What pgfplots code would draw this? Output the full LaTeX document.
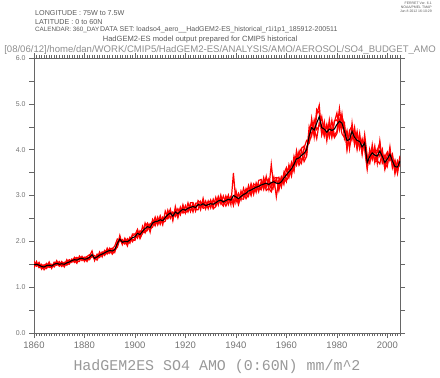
\documentclass[border=0pt]{standalone}
\usepackage{fontspec}
\setmainfont{Liberation Sans}
\newfontfamily\hfont{Liberation Mono}
\usepackage{pgfplots}
\usepackage{pgfplotstable}
\pgfplotsset{compat=1.18}
\definecolor{txtgray}{HTML}{5A5A5A}
\definecolor{lightgray}{HTML}{8E8E8E}
\definecolor{axgray}{HTML}{666666}
\pgfplotstableread{
year mean m1 m2 m3 m4
1860 1.49 1.57 1.45 1.51 1.43
1861 1.50 1.47 1.56 1.46 1.51
1862 1.48 1.52 1.43 1.54 1.43
1863 1.45 1.39 1.48 1.43 1.50
1864 1.44 1.46 1.38 1.49 1.43
1865 1.47 1.52 1.45 1.41 1.50
1866 1.48 1.44 1.55 1.50 1.43
1867 1.46 1.49 1.41 1.50 1.44
1868 1.50 1.48 1.54 1.44 1.54
1869 1.52 1.58 1.49 1.53 1.48
1870 1.50 1.47 1.56 1.46 1.51
1871 1.51 1.56 1.49 1.54 1.45
1872 1.50 1.48 1.54 1.44 1.54
1873 1.53 1.60 1.48 1.55 1.49
1874 1.55 1.51 1.58 1.60 1.51
1875 1.58 1.61 1.54 1.56 1.61
1876 1.60 1.54 1.65 1.63 1.58
1877 1.59 1.63 1.56 1.65 1.52
1878 1.62 1.64 1.56 1.60 1.68
1879 1.63 1.58 1.67 1.66 1.61
1880 1.61 1.65 1.56 1.64 1.59
1881 1.62 1.56 1.65 1.67 1.60
1882 1.65 1.68 1.61 1.71 1.60
1883 1.71 1.79 1.69 1.68 1.68
1884 1.63 1.58 1.69 1.61 1.64
1885 1.66 1.72 1.63 1.70 1.59
1886 1.70 1.67 1.77 1.65 1.71
1887 1.72 1.77 1.66 1.75 1.70
1888 1.75 1.71 1.80 1.69 1.80
1889 1.78 1.85 1.75 1.80 1.72
1890 1.80 1.74 1.85 1.83 1.78
1891 1.79 1.83 1.72 1.85 1.76
1892 1.82 1.90 1.79 1.76 1.83
1893 1.95 2.05 1.89 1.99 1.87
1894 2.05 2.00 2.13 2.03 2.04
1895 1.98 2.04 1.93 2.01 1.94
1896 2.00 1.96 2.07 1.94 2.03
1897 1.99 2.04 1.96 2.06 1.90
1898 2.03 1.96 2.09 2.00 2.07
1899 2.08 2.16 2.04 2.13 1.99
1900 2.10 2.16 2.02 2.14 2.08
1901 2.17 2.07 2.24 2.26 2.11
1902 2.15 2.23 2.09 2.06 2.22
1903 2.22 2.17 2.33 2.18 2.20
1904 2.28 2.40 2.19 2.34 2.19
1905 2.32 2.25 2.37 2.40 2.26
1906 2.30 2.39 2.20 2.27 2.34
1907 2.40 2.36 2.48 2.31 2.45
1908 2.43 2.53 2.38 2.47 2.34
1909 2.44 2.36 2.53 2.38 2.49
1910 2.47 2.52 2.37 2.56 2.43
1911 2.45 2.36 2.53 2.41 2.50
1912 2.52 2.66 2.47 2.44 2.51
1913 2.58 2.52 2.68 2.63 2.49
1914 2.62 2.70 2.50 2.68 2.60
1915 2.55 2.45 2.64 2.48 2.63
1916 2.64 2.76 2.58 2.68 2.54
1917 2.60 2.55 2.71 2.51 2.63
1918 2.66 2.75 2.58 2.71 2.60
1919 2.70 2.63 2.80 2.62 2.75
1920 2.68 2.78 2.62 2.63 2.69
1921 2.72 2.64 2.84 2.66 2.74
1922 2.74 2.80 2.65 2.84 2.67
1923 2.76 2.64 2.83 2.84 2.73
1924 2.74 2.83 2.69 2.66 2.78
1925 2.80 2.84 2.69 2.89 2.78
1926 2.79 2.69 2.87 2.84 2.76
1927 2.82 2.94 2.76 2.72 2.86
1928 2.78 2.71 2.88 2.74 2.79
1929 2.80 2.88 2.71 2.86 2.75
1930 2.82 2.73 2.90 2.88 2.77
1931 2.81 2.92 2.74 2.71 2.87
1932 2.84 2.78 2.96 2.76 2.86
1933 2.88 2.98 2.79 2.93 2.82
1934 2.90 2.82 3.01 2.84 2.93
1935 2.86 2.99 2.80 2.77 2.88
1936 2.89 2.84 2.99 2.96 2.77
1937 2.92 3.01 2.80 2.98 2.89
1938 2.90 2.80 2.97 2.85 2.98
1939 3.00 3.49 2.88 2.85 2.78
1940 2.97 2.85 3.11 2.91 3.01
1941 2.93 3.03 2.84 3.05 2.80
1942 2.98 2.90 3.10 2.93 2.99
1943 3.02 3.16 2.95 2.92 3.05
1944 3.05 2.99 3.15 3.13 2.93
1945 3.10 3.22 2.99 3.16 3.03
1946 3.12 3.02 3.20 3.00 3.26
1947 3.15 3.24 3.02 3.25 3.09
1948 3.18 3.07 3.28 3.23 3.14
1949 3.20 3.33 3.14 3.08 3.25
1950 3.23 3.35 3.13 3.31 3.13
1951 3.25 3.17 3.39 3.13 3.31
1952 3.27 3.42 3.18 3.37 3.11
1953 3.24 3.14 3.36 3.30 3.16
1954 3.28 3.68 3.22 3.14 3.08
1955 3.30 3.18 3.40 3.38 3.24
1956 3.27 3.37 2.97 3.39 3.35
1957 3.26 3.40 3.34 3.11 3.19
1958 3.30 3.22 3.18 3.39 3.41
1959 3.38 3.50 3.48 3.24 3.30
1960 3.45 3.31 3.61 3.55 3.33
1961 3.52 3.67 3.40 3.60 3.41
1962 3.58 3.48 3.72 3.42 3.70
1963 3.68 3.86 3.53 3.78 3.55
1964 3.80 3.68 3.98 3.66 3.88
1965 3.82 3.96 3.72 3.94 3.66
1966 3.88 3.72 4.00 4.03 3.77
1967 3.92 4.04 3.74 4.08 3.82
1968 4.00 4.20 3.86 3.88 4.06
1969 4.30 4.15 4.50 4.40 4.15
1970 4.48 4.68 4.30 4.60 4.34
1971 4.43 4.28 4.65 4.33 4.46
1972 4.58 4.76 4.44 4.88 4.24
1973 4.72 4.97 4.52 4.80 4.59
1974 4.48 4.34 4.72 4.33 4.53
1975 4.45 4.61 4.33 4.57 4.29
1976 4.38 4.20 4.53 4.24 4.55
1977 4.45 4.65 4.29 4.59 4.27
1978 4.42 4.30 4.64 4.27 4.47
1979 4.45 4.60 4.31 4.63 4.26
1980 4.55 4.80 4.40 4.65 4.35
1981 4.62 4.44 4.90 4.50 4.64
1982 4.58 4.78 4.46 4.73 4.35
1983 4.40 4.24 4.58 4.52 4.26
1984 4.20 4.42 4.00 4.02 4.36
1985 4.22 4.02 4.37 4.42 4.07
1986 4.40 4.58 4.22 4.52 4.28
1987 4.27 4.12 4.49 4.11 4.36
1988 4.20 4.40 4.06 4.34 4.00
1989 4.18 4.02 4.36 4.06 4.28
1990 4.06 4.24 3.90 4.18 3.92
1991 4.15 4.01 4.33 4.05 4.21
1992 3.72 3.57 3.86 3.62 3.83
1993 3.85 4.01 3.71 3.97 3.71
1994 3.93 3.81 4.11 3.78 4.02
1995 3.88 4.08 3.73 3.98 3.73
1996 3.86 3.70 4.00 3.98 3.76
1997 3.97 4.19 3.85 4.15 3.69
1998 3.85 3.71 4.01 3.73 3.95
1999 3.72 3.84 3.58 3.88 3.58
2000 3.80 3.95 3.68 3.65 3.92
2001 3.90 3.76 4.06 4.00 3.78
2002 3.75 3.87 3.60 3.63 3.90
2003 3.63 3.53 3.77 3.75 3.47
2004 3.62 3.76 3.52 3.48 3.72
2005 3.75 3.63 3.87 3.83 3.67
}\datatable
\begin{document}
\begin{tikzpicture}[x=1bp,y=1bp]
\path[use as bounding box] (0,0) rectangle (440,377);
\begin{axis}[
  at={(34bp,44bp)}, anchor=south west,
  width=366bp, height=275bp, scale only axis,
  xmin=1860, xmax=2005, ymin=0, ymax=6,
  axis line style={axgray, line width=0.6bp},
  tick style={axgray, line width=0.5bp},
  tick align=outside,
  major tick length=5bp, minor tick length=3bp,
  xtick={1860,1880,...,2000},
  minor xtick={1861,1862,...,2005},
  xtick pos=both, ytick pos=both,
  xticklabel pos=bottom, yticklabel pos=left,
  ytick={0,1,...,6},
  extra y ticks={0.5,1.5,...,5.5},
  extra y tick labels={},
  extra y tick style={tick align=outside},
  /pgf/number format/assume math mode=true,
  yticklabel={\pgfmathprintnumber[fixed,fixed zerofill,precision=1]{\tick}},
  xticklabel={\pgfmathprintnumber[int detect,1000 sep={}]{\tick}},
  x tick label style={font=\fontsize{9.5}{10}\selectfont, text=txtgray!85},
  y tick label style={font=\fontsize{7}{8}\selectfont, text=txtgray!85},
  clip=true,
]
\addplot[red, line width=1.2bp] table[x=year, y=m1] {\datatable};
\addplot[red, line width=1.2bp] table[x=year, y=m2] {\datatable};
\addplot[red, line width=1.2bp] table[x=year, y=m3] {\datatable};
\addplot[red, line width=1.2bp] table[x=year, y=m4] {\datatable};
\addplot[black, line width=1.1bp] table[x=year, y=mean] {\datatable};
\end{axis}
% header texts
\node[anchor=west, inner sep=0, text=txtgray, font=\fontsize{7.2}{8}\selectfont] at (35,364) {LONGITUDE : 75W to 7.5W};
\node[anchor=west, inner sep=0, text=txtgray, font=\fontsize{7.2}{8}\selectfont] at (35,355) {LATITUDE : 0 to 60N};
\node[anchor=west, inner sep=0, text=txtgray, font=\fontsize{6.3}{8}\selectfont] at (35,347) {CALENDAR: 360\_DAY};
\node[anchor=west, inner sep=0, text=txtgray, font=\fontsize{7.0}{8}\selectfont] at (100,347) {DATA SET: loadso4\_aero\_\_HadGEM2-ES\_historical\_r1i1p1\_185912-200511};
\node[anchor=center, inner sep=0, text=txtgray, font=\fontsize{7.6}{8}\selectfont] at (200,337) {HadGEM2-ES model output prepared for CMIP5 historical};
\node[anchor=center, inner sep=0, text=lightgray, font=\fontsize{9.6}{10}\selectfont] at (220,327) {[08/06/12]/home/dan/WORK/CMIP5/HadGEM2-ES/ANALYSIS/AMO/AEROSOL/SO4\_BUDGET\_AMO};
\node[anchor=north east, inner sep=0, text=txtgray, font=\fontsize{3.5}{4}\selectfont, align=right] at (432,375) {FERRET Ver. 6.1\\NOAA/PMEL TMAP\\Jun 8 2012 16:10:29};
% x label
\node[anchor=center, inner sep=0, text=lightgray!90, font=\hfont\fontsize{15}{16}\selectfont] at (217,10) {HadGEM2ES SO4 AMO (0:60N) mm/m\textasciicircum2};
\end{tikzpicture}
\end{document}
